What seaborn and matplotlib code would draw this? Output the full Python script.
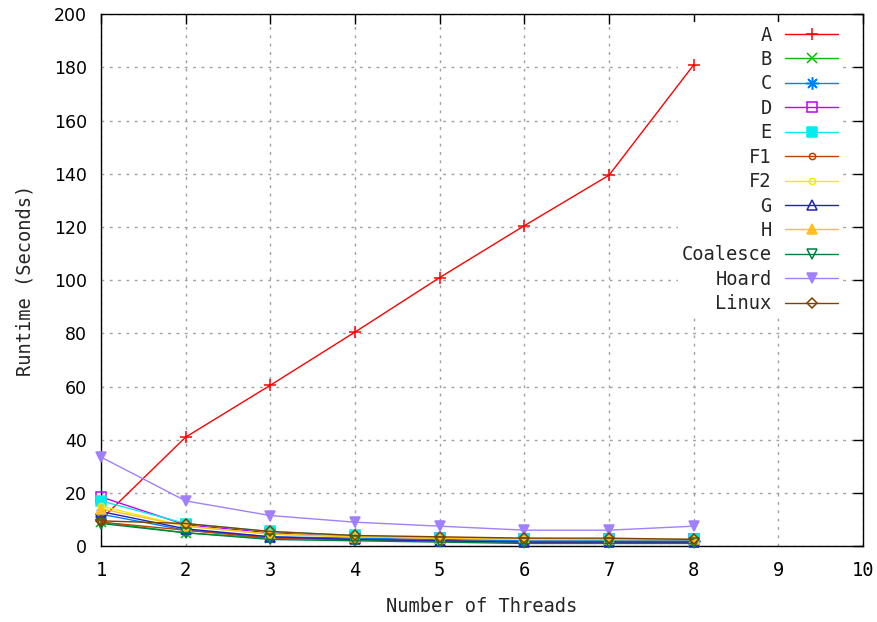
import matplotlib
matplotlib.use("Agg")
import matplotlib.pyplot as plt
import seaborn as sns
import pandas as pd

threads = [1, 2, 3, 4, 5, 6, 7, 8]

series_names = ["A", "B", "C", "D", "E", "F1", "F2", "G", "H", "Coalesce", "Hoard", "Linux"]

runtime_a = [10.0, 41.0, 60.5, 80.5, 101.0, 120.5, 139.5, 181.0]
runtime_b = [9.0, 5.0, 3.0, 2.5, 2.0, 1.5, 1.5, 1.5]
runtime_c = [12.0, 6.0, 3.5, 3.0, 2.5, 2.0, 2.0, 2.0]
runtime_d = [18.5, 8.0, 5.0, 3.5, 3.0, 2.5, 2.5, 2.5]
runtime_e = [17.0, 8.5, 5.5, 4.0, 3.0, 2.5, 2.5, 2.5]
runtime_f1 = [9.0, 6.0, 3.0, 2.5, 2.0, 1.5, 1.5, 1.5]
runtime_f2 = [15.0, 7.5, 4.5, 3.5, 3.0, 2.5, 2.5, 2.5]
runtime_g = [13.0, 6.5, 3.5, 2.5, 2.0, 1.5, 1.5, 1.5]
runtime_h = [14.0, 7.5, 4.5, 3.5, 3.0, 3.0, 2.5, 2.5]
runtime_coalesce = [8.5, 5.0, 2.5, 2.0, 1.5, 1.0, 1.0, 1.0]
runtime_hoard = [33.5, 17.0, 11.5, 9.0, 7.5, 6.0, 6.0, 7.5]
runtime_linux = [9.5, 8.5, 5.5, 4.0, 3.5, 3.0, 3.0, 2.5]

x_ticks = [1, 2, 3, 4, 5, 6, 7, 8, 9, 10]
y_ticks = [0, 20, 40, 60, 80, 100, 120, 140, 160, 180, 200]

values = [runtime_a, runtime_b, runtime_c, runtime_d, runtime_e, runtime_f1,
          runtime_f2, runtime_g, runtime_h, runtime_coalesce, runtime_hoard, runtime_linux]

df = pd.DataFrame(
    [(name, t, v) for name, vals in zip(series_names, values) for t, v in zip(threads, vals)],
    columns=["allocator", "threads", "runtime"],
)

# gnuplot-like colours and point types: (colour, marker, filled, size)
styles = {
    "A": ("#ff0000", "+", True, 9),
    "B": ("#00c000", "x", True, 7),
    "C": ("#0080ff", (8, 2, 0), True, 9),
    "D": ("#c000ff", "s", False, 6.5),
    "E": ("#00eeee", "s", True, 6.5),
    "F1": ("#c04000", "o", False, 4.5),
    "F2": ("#eeee00", "o", False, 4.5),
    "G": ("#2020c0", "^", False, 7.5),
    "H": ("#ffc020", "^", True, 7.5),
    "Coalesce": ("#008040", "v", False, 7.5),
    "Hoard": ("#a080ff", "v", True, 7.5),
    "Linux": ("#804000", "D", False, 5),
}

sns.set_style("white")
mono = "DejaVu Sans Mono"
fs = 13.5

fig = plt.figure(figsize=(8.78, 6.22), dpi=100)
ax = fig.add_axes([0.115, 0.122, 0.868, 0.855])

for name in series_names:
    color, marker, filled, ms = styles[name]
    sub = df[df["allocator"] == name]
    sns.lineplot(
        data=sub, x="threads", y="runtime", ax=ax, label=name,
        color=color, marker=marker, markersize=ms, linewidth=1.0,
        markerfacecolor=color if filled else "none",
        markeredgecolor=color, markeredgewidth=1.1, zorder=3, clip_on=False,
    )

ax.set_xlim(1, 10)
ax.set_ylim(0, 200)
ax.set_xticks(x_ticks)
ax.set_yticks(y_ticks)
ax.set_xticklabels([str(t) for t in x_ticks], fontfamily=mono, fontsize=fs)
ax.set_yticklabels([str(t) for t in y_ticks], fontfamily="DejaVu Sans", fontsize=12.5)
ax.tick_params(axis="both", direction="in", length=7, width=1, top=True, right=True,
               colors="black")
ax.tick_params(axis="x", pad=11)
ax.tick_params(axis="y", pad=10)
ax.set_axisbelow(True)
ax.grid(True, color="#a0a0a0", linestyle=(0, (2, 4)), linewidth=1)
for sp in ax.spines.values():
    sp.set_color("black")
    sp.set_linewidth(1)

ax.set_xlabel("Number of Threads", fontfamily=mono, fontsize=fs, labelpad=12)
ax.set_ylabel("Runtime (Seconds)", fontfamily=mono, fontsize=fs, labelpad=14)

leg = ax.legend(loc="upper right", markerfirst=False, frameon=True, fancybox=False,
                prop={"family": mono, "size": fs}, handlelength=2.85,
                labelspacing=0.29, borderaxespad=0.0, borderpad=0.2, handletextpad=0.7,
                bbox_to_anchor=(0.9724, 0.986))
leg.get_frame().set_facecolor("white")
leg.get_frame().set_edgecolor("none")
leg.get_frame().set_alpha(1)
# key box sits above the grid but below the data lines
leg.set_zorder(1)
for t in leg.get_texts():
    t.set_ha("right")

fig.savefig("out.png", dpi=100)
